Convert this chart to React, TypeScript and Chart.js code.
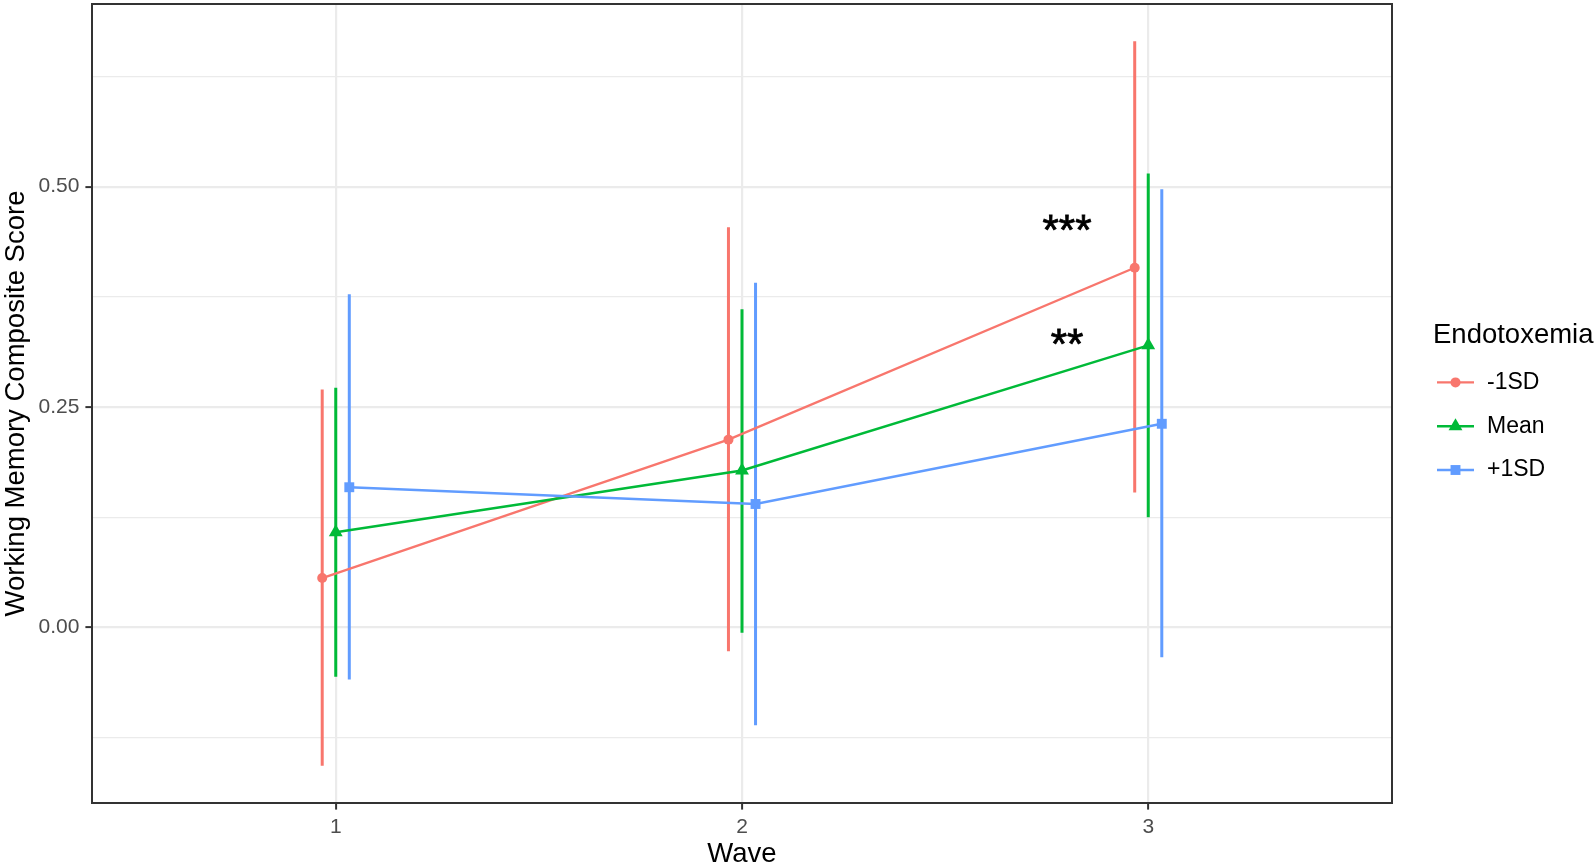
import React, { useEffect, useRef } from 'react';
import { Chart, registerables } from 'chart.js';
import { drawPoint } from 'chart.js/helpers';

Chart.register(...registerables);

const FONT = '"Liberation Sans", Arial, Helvetica, sans-serif';

// ---- data ----
const WAVES = [1, 2, 3];
const SERIES_NAMES = ['-1SD', 'Mean', '+1SD'];
const COLORS = ['#F8766D', '#00BA38', '#619CFF'];
const POINT_STYLES = ['circle', 'triangle', 'rect'];
const POINT_RADII = [5, 8, 7];

const EST_LOW = [0.056, 0.213, 0.408];
const LO_LOW = [-0.157, -0.027, 0.153];
const HI_LOW = [0.270, 0.454, 0.665];

const EST_MEAN = [0.108, 0.178, 0.320];
const LO_MEAN = [-0.056, -0.006, 0.125];
const HI_MEAN = [0.272, 0.361, 0.515];

const EST_HIGH = [0.159, 0.140, 0.231];
const LO_HIGH = [-0.059, -0.111, -0.034];
const HI_HIGH = [0.378, 0.391, 0.497];

const ESTIMATES = [EST_LOW, EST_MEAN, EST_HIGH];
const LOWERS = [LO_LOW, LO_MEAN, LO_HIGH];
const UPPERS = [HI_LOW, HI_MEAN, HI_HIGH];

const X_TICKS = [1, 2, 3];
const Y_TICKS = [-0.125, 0, 0.125, 0.25, 0.375, 0.5, 0.625];
const Y_LABELED = [0, 0.25, 0.5];

const STAR_TEXT = ['***', '**'];
const STAR_X = [2.8, 2.8];
const STAR_Y = [0.459, 0.33];

const DODGE = 0.1 / 3;

const isMajorY = (v: number) => Y_LABELED.some((m) => Math.abs(m - v) < 1e-9);

const panelPlugin = {
  id: 'ggPanel',
  afterDatasetsDraw(chart: any) {
    const { ctx, chartArea, scales } = chart;
    ctx.save();
    // annotations
    ctx.fillStyle = '#000000';
    ctx.strokeStyle = '#000000';
    ctx.lineWidth = 0.8;
    ctx.font = `42px ${FONT}`;
    ctx.textAlign = 'center';
    ctx.textBaseline = 'alphabetic';
    STAR_TEXT.forEach((t, i) => {
      const px = scales.x.getPixelForValue(STAR_X[i]);
      const py = scales.y.getPixelForValue(STAR_Y[i]);
      const m = ctx.measureText(t);
      const a = m.actualBoundingBoxAscent;
      const d = m.actualBoundingBoxDescent;
      ctx.fillText(t, px, py + (a - d) / 2);
      ctx.strokeText(t, px, py + (a - d) / 2);
    });
    // panel border
    ctx.strokeStyle = '#333333';
    ctx.lineWidth = 2;
    ctx.strokeRect(chartArea.left, chartArea.top, chartArea.right - chartArea.left, chartArea.bottom - chartArea.top);
    ctx.restore();
  },
  afterDraw(chart: any) {
    const { ctx } = chart;
    ctx.save();
    ctx.fillStyle = '#000000';
    ctx.textAlign = 'left';
    ctx.textBaseline = 'middle';
    ctx.font = `27.5px ${FONT}`;
    ctx.fillText('Endotoxemia', 1433, 335);
    ctx.font = `23px ${FONT}`;
    SERIES_NAMES.forEach((name, i) => {
      const y = 382.4 + i * 43.8;
      ctx.strokeStyle = COLORS[i];
      ctx.fillStyle = COLORS[i];
      ctx.lineWidth = 2.4;
      ctx.beginPath();
      ctx.moveTo(1437, y);
      ctx.lineTo(1474, y);
      ctx.stroke();
      drawPoint(ctx, { pointStyle: POINT_STYLES[i] as any, radius: POINT_RADII[i], rotation: 0, borderWidth: 0 }, 1455.5, y);
      ctx.fillStyle = '#000000';
      ctx.fillText(name, 1487, y);
    });
    ctx.restore();
  },
};

export default function App() {
  const canvasRef = useRef<HTMLCanvasElement | null>(null);

  useEffect(() => {
    if (!canvasRef.current) return;

    const lineSets: any[] = SERIES_NAMES.map((name, k) => ({
      type: 'line',
      label: name,
      data: WAVES.map((w, i) => ({ x: w + (k - 1) * DODGE, y: ESTIMATES[k][i] })),
      borderColor: COLORS[k],
      backgroundColor: COLORS[k],
      borderWidth: 2.4,
      tension: 0,
      pointStyle: POINT_STYLES[k],
      pointRadius: POINT_RADII[k],
      pointBorderWidth: 0,
      pointBackgroundColor: COLORS[k],
      pointHoverRadius: POINT_RADII[k],
      fill: false,
      order: 3 - k,
    }));

    const barSets: any[] = SERIES_NAMES.map((name, k) => {
      const data: any[] = [];
      WAVES.forEach((w, i) => {
        const x = w + (k - 1) * DODGE;
        data.push({ x, y: LOWERS[k][i] });
        data.push({ x, y: UPPERS[k][i] });
        data.push({ x, y: null });
      });
      return {
        type: 'line',
        label: name + ' CI',
        data,
        borderColor: COLORS[k],
        backgroundColor: COLORS[k],
        borderWidth: 3,
        pointRadius: 0,
        pointHoverRadius: 0,
        spanGaps: false,
        fill: false,
        order: 10 - k,
      };
    });

    const chart = new Chart(canvasRef.current, {
      type: 'line',
      data: { datasets: [...lineSets, ...barSets] },
      options: {
        animation: false,
        responsive: false,
        devicePixelRatio: 1,
        parsing: false as any,
        layout: { autoPadding: false, padding: { left: 0, right: 203, top: 4, bottom: 0 } },
        plugins: {
          legend: { display: false },
          tooltip: { enabled: false },
        },
        scales: {
          x: {
            type: 'linear',
            min: 0.4,
            max: 3.6,
            afterBuildTicks: (scale: any) => {
              scale.ticks = X_TICKS.map((v) => ({ value: v }));
            },
            afterFit: (scale: any) => {
              scale.height = 65;
              scale.paddingLeft = 0;
              scale.paddingRight = 0;
            },
            ticks: {
              autoSkip: false,
              maxRotation: 0,
              padding: 5,
              color: '#4D4D4D',
              font: { family: FONT, size: 21 },
              callback: (v: any) => String(v),
            },
            grid: {
              color: '#EBEBEB',
              lineWidth: 2.2,
              tickColor: '#333333',
              tickLength: 6.6,
              tickWidth: 2,
            },
            border: { display: false },
            title: {
              display: true,
              text: 'Wave',
              color: '#000000',
              font: { family: FONT, size: 27.5, lineHeight: 1 },
              padding: { top: 0, bottom: 0 },
            },
          },
          y: {
            type: 'linear',
            min: -0.1992,
            max: 0.7072,
            afterBuildTicks: (scale: any) => {
              scale.ticks = Y_TICKS.map((v) => ({ value: v }));
            },
            afterFit: (scale: any) => {
              scale.width = 92;
              scale.paddingTop = 0;
              scale.paddingBottom = 0;
            },
            ticks: {
              autoSkip: false,
              padding: 6,
              color: '#4D4D4D',
              font: { family: FONT, size: 21 },
              callback: (v: any) => (isMajorY(Number(v)) ? Number(v).toFixed(2) : ''),
            },
            grid: {
              color: '#EBEBEB',
              lineWidth: (c: any) => (c.tick && isMajorY(c.tick.value) ? 2.2 : 1.2),
              tickColor: (c: any) => (c.tick && isMajorY(c.tick.value) ? '#333333' : 'rgba(0,0,0,0)'),
              tickLength: 6.6,
              tickWidth: 2,
            },
            border: { display: false },
            title: {
              display: true,
              text: 'Working Memory Composite Score',
              color: '#000000',
              font: { family: FONT, size: 27.5, lineHeight: 1 },
              padding: { top: 3, bottom: 0 },
            },
          },
        },
      } as any,
      plugins: [panelPlugin],
    } as any);

    return () => {
      chart.destroy();
    };
  }, []);

  return (
    <div style={{ position: 'absolute', left: 0, top: 0, width: 1595, height: 868, background: '#ffffff' }}>
      <canvas ref={canvasRef} width={1595} height={868} style={{ width: 1595, height: 868, display: 'block' }} />
    </div>
  );
}
